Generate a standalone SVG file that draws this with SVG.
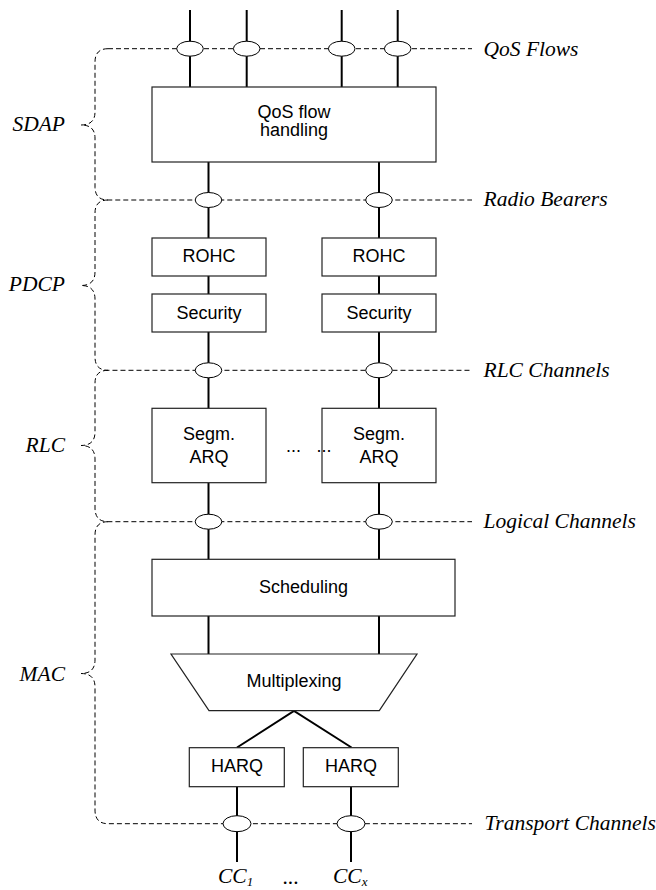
<svg xmlns="http://www.w3.org/2000/svg" width="656" height="890" viewBox="0 0 656 890">
<style>
.box{fill:#fff;stroke:#222;stroke-width:1.2}
.conn{stroke:#000;stroke-width:2;fill:none}
.dash{stroke:#000;stroke-width:1;stroke-dasharray:5,3;fill:none}
.ell{fill:#fff;stroke:#000;stroke-width:1}
.t{font-family:"Liberation Sans",Arial,sans-serif;font-size:18px;fill:#000;text-anchor:middle}
.lab{font-family:"Liberation Serif","Times New Roman",serif;font-style:italic;font-size:21.5px;fill:#000}
.side{font-family:"Liberation Serif","Times New Roman",serif;font-style:italic;font-size:21.5px;fill:#000;text-anchor:end}
</style>
<rect width="656" height="890" fill="#fff"/>
<g id="braces">
<path class="dash" d="M108,48.7 Q95,48.7 95,62 L95,112 Q95,125 81,125 Q95,125 95,138 L95,187 Q95,200 108,200 L472,200"/>
<path class="dash" d="M108,48.7 L472,48.7"/>
<path class="dash" d="M108,200 Q95,200 95,213 L95,272 Q95,285.5 81,285.5 Q95,285.5 95,299 L95,357 Q95,370.3 108,370.3 L472,370.3"/>
<path class="dash" d="M108,370.3 Q95,370.3 95,383 L95,432 Q95,445.5 81,445.5 Q95,445.5 95,459 L95,508 Q95,521.7 108,521.7 L472,521.7"/>
<path class="dash" d="M108,521.7 Q95,521.7 95,535 L95,660 Q95,673.5 81,673.5 Q95,673.5 95,687 L95,810 Q95,823.7 108,823.7 L472,823.7"/>
</g>
<g id="connectors">
<line class="conn" x1="190" y1="10" x2="190" y2="87"/>
<line class="conn" x1="246.7" y1="10" x2="246.7" y2="87"/>
<line class="conn" x1="341.7" y1="10" x2="341.7" y2="87"/>
<line class="conn" x1="397.7" y1="10" x2="397.7" y2="87"/>
<line class="conn" x1="208.5" y1="162" x2="208.5" y2="238"/>
<line class="conn" x1="379" y1="162" x2="379" y2="238"/>
<line class="conn" x1="208.5" y1="276" x2="208.5" y2="294"/>
<line class="conn" x1="379" y1="276" x2="379" y2="294"/>
<line class="conn" x1="208.5" y1="332" x2="208.5" y2="408"/>
<line class="conn" x1="379" y1="332" x2="379" y2="408"/>
<line class="conn" x1="208.5" y1="483" x2="208.5" y2="559"/>
<line class="conn" x1="379" y1="483" x2="379" y2="559"/>
<line class="conn" x1="208.5" y1="616" x2="208.5" y2="654"/>
<line class="conn" x1="379" y1="616" x2="379" y2="654"/>
<polyline class="conn" points="237,747.5 294,711 351.5,747.5"/>
<line class="conn" x1="237" y1="787" x2="237" y2="862"/>
<line class="conn" x1="351" y1="787" x2="351" y2="862"/>
</g>
<g id="sap-points">
<ellipse class="ell" cx="190" cy="48.7" rx="13.3" ry="7.5"/>
<ellipse class="ell" cx="246.7" cy="48.7" rx="13.3" ry="7.5"/>
<ellipse class="ell" cx="341.7" cy="48.7" rx="13.3" ry="7.5"/>
<ellipse class="ell" cx="397.7" cy="48.7" rx="13.3" ry="7.5"/>
<ellipse class="ell" cx="208.5" cy="200" rx="13.3" ry="7.5"/>
<ellipse class="ell" cx="379" cy="200" rx="13.3" ry="7.5"/>
<ellipse class="ell" cx="208.5" cy="370.3" rx="13.3" ry="7.5"/>
<ellipse class="ell" cx="379" cy="370.3" rx="13.3" ry="7.5"/>
<ellipse class="ell" cx="208.5" cy="521.7" rx="13.3" ry="7.5"/>
<ellipse class="ell" cx="379" cy="521.7" rx="13.3" ry="7.5"/>
<ellipse class="ell" cx="237" cy="823.7" rx="14" ry="8"/>
<ellipse class="ell" cx="351" cy="823.7" rx="14" ry="8"/>
</g>
<g id="qos">
<rect class="box" x="152" y="87" width="284" height="75"/>
<text class="t" x="294" y="117.5">QoS flow</text>
<text class="t" x="294" y="136">handling</text>
</g>
<g id="rohc1"><rect class="box" x="152" y="238" width="114" height="38"/><text class="t" x="209" y="262">ROHC</text></g>
<g id="rohc2"><rect class="box" x="322" y="238" width="114" height="38"/><text class="t" x="379" y="262">ROHC</text></g>
<g id="sec1"><rect class="box" x="152" y="294" width="114" height="38"/><text class="t" x="209" y="319">Security</text></g>
<g id="sec2"><rect class="box" x="322" y="294" width="114" height="38"/><text class="t" x="379" y="319">Security</text></g>
<g id="segm1"><rect class="box" x="152" y="408.3" width="114" height="74.4"/><text class="t" x="209" y="440">Segm.</text><text class="t" x="209" y="462.7">ARQ</text></g>
<g id="segm2"><rect class="box" x="322" y="408.3" width="114" height="74.4"/><text class="t" x="379" y="440">Segm.</text><text class="t" x="379" y="462.7">ARQ</text></g>
<g id="rlc-dots"><text class="t" x="293.5" y="452">...</text><text class="t" x="324" y="452">...</text></g>
<g id="sched"><rect class="box" x="152" y="559.3" width="303" height="56.7"/><text class="t" x="303.5" y="593">Scheduling</text></g>
<g id="mux"><polygon class="box" points="171,654 417,654 379.3,710.7 209,710.7"/><text class="t" x="294" y="687">Multiplexing</text></g>
<g id="harq1"><rect class="box" x="189.3" y="747.7" width="95" height="39"/><text class="t" x="237" y="772">HARQ</text></g>
<g id="harq2"><rect class="box" x="303.3" y="747.7" width="95" height="39"/><text class="t" x="351" y="772">HARQ</text></g>
<g id="labels">
<text class="lab" x="483.5" y="55.5">QoS Flows</text>
<text class="lab" x="483.5" y="206">Radio Bearers</text>
<text class="lab" x="483.5" y="376.5">RLC Channels</text>
<text class="lab" x="483.5" y="528">Logical Channels</text>
<text class="lab" x="484.5" y="830">Transport Channels</text>
<text class="side" x="65" y="131">SDAP</text>
<text class="side" x="65" y="291">PDCP</text>
<text class="side" x="65" y="451.5">RLC</text>
<text class="side" x="65" y="680.5">MAC</text>
<text class="lab" x="218" y="883">CC<tspan font-size="13" dy="3">1</tspan></text>
<text class="lab" x="291" y="884" text-anchor="middle" font-style="normal">...</text>
<text class="lab" x="333" y="883">CC<tspan font-size="13" dy="3">x</tspan></text>
</g>
</svg>
